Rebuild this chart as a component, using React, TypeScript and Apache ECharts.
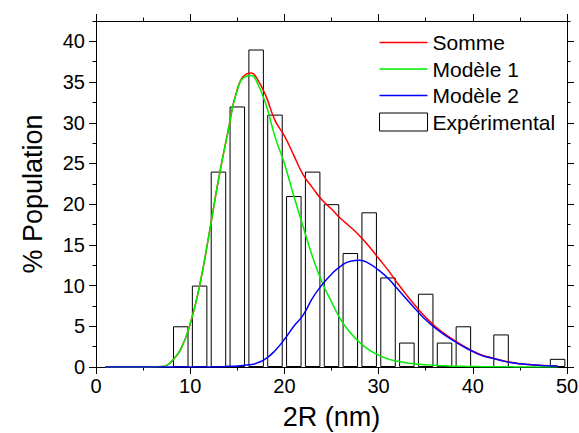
import React, { useEffect, useRef } from "react";
import * as echarts from "echarts";

// Histogram bins (bin centres, nm) and measured population (%)
const binCenters = [9, 11, 13, 15, 17, 19, 21, 23, 25, 27, 29, 31, 33, 35, 37, 39, 41, 43, 45, 47, 49];
const populations = [5, 10, 24, 32, 39, 31, 21, 24, 20, 14, 19, 11, 3, 9, 3, 5, 0, 4, 0, 0, 1];

// Fitted curves, sampled positions (nm)
const curveX = [1, 2, 3, 4, 5, 6, 7, 7.5, 8, 9, 10, 11, 12, 13, 14, 15, 16, 16.5, 17, 18, 19, 20, 21, 22, 23, 24, 25, 26, 27, 28, 29, 30, 31, 32, 33, 34, 35, 36, 37, 38, 39, 40, 41, 42, 43, 44, 45, 46, 47, 48, 49];
const somme = [0, 0, 0, 0, 0, 0, 0.05, 0.2, 0.65, 2.2, 5.3, 10.0, 16.3, 23.0, 28.9, 34.1, 36.0, 36.1, 35.6, 33.4, 30.3, 28.4, 26.0, 23.6, 22.0, 20.5, 19.4, 18.2, 17.2, 16.1, 14.8, 13.35, 11.9, 10.3, 8.8, 7.4, 6.1, 5.0, 4.1, 3.3, 2.6, 1.95, 1.45, 1.13, 0.82, 0.57, 0.41, 0.31, 0.21, 0.16, 0.11];
const modele1 = [0, 0, 0, 0, 0, 0, 0.05, 0.2, 0.65, 2.2, 5.3, 10.0, 16.3, 23.0, 28.8, 34.0, 35.75, 35.8, 35.2, 32.4, 28.3, 25.0, 21.0, 17.2, 13.5, 10.4, 8.0, 5.8, 4.2, 3.0, 2.1, 1.45, 1.0, 0.7, 0.5, 0.38, 0.28, 0.2, 0.15, 0.1, 0.08, 0.06, 0.04, 0.03, 0.02, 0.02, 0.01, 0.01, 0.01, 0.01, 0.01];
const modele2 = [0, 0, 0, 0, 0, 0, 0, 0, 0, 0, 0, 0, 0, 0, 0.08, 0.12, 0.25, 0.32, 0.45, 1.0, 2.0, 3.4, 5.0, 6.4, 8.5, 10.1, 11.4, 12.4, 13.0, 13.1, 12.7, 11.9, 10.9, 9.6, 8.3, 7.0, 5.8, 4.8, 3.95, 3.2, 2.5, 1.9, 1.4, 1.1, 0.8, 0.55, 0.4, 0.3, 0.2, 0.15, 0.1];

// Axis ticks
const xMajorTicks = [0, 10, 20, 30, 40, 50];
const xMinorTicks = [5, 15, 25, 35, 45];
const yMajorTicks = [0, 5, 10, 15, 20, 25, 30, 35, 40];
const yMinorTicks = [2.5, 7.5, 12.5, 17.5, 22.5, 27.5, 32.5, 37.5, 42.5];

const FONT = "Liberation Sans";
const X_MIN = 0, X_MAX = 50, Y_MIN = 0, Y_MAX = 42.5;
const LINE_ICON = "path://M0,0L48,0L48,1.5L0,1.5Z";

function xAx(position: string, ticks: number[], len: number, showLine: boolean, showLabel: boolean, extra: any = {}) {
  return {
    type: "value",
    position,
    min: X_MIN,
    max: X_MAX,
    splitLine: { show: false },
    axisLine: { show: showLine, onZero: false, lineStyle: { color: "#000", width: 1 } },
    axisTick: { show: true, inside: false, length: len, customValues: ticks, lineStyle: { color: "#000", width: 1 } },
    axisLabel: { show: showLabel, customValues: ticks, color: "#000", fontSize: 20, fontFamily: FONT, margin: 9 },
    ...extra,
  };
}
function yAx(position: string, ticks: number[], len: number, showLine: boolean, showLabel: boolean, extra: any = {}) {
  return {
    type: "value",
    position,
    min: Y_MIN,
    max: Y_MAX,
    splitLine: { show: false },
    axisLine: { show: showLine, onZero: false, lineStyle: { color: "#000", width: 1 } },
    axisTick: { show: true, inside: false, length: len, customValues: ticks, lineStyle: { color: "#000", width: 1 } },
    axisLabel: { show: showLabel, customValues: ticks, color: "#000", fontSize: 20, fontFamily: FONT, margin: 11 },
    ...extra,
  };
}

export default function App() {
  const ref = useRef<HTMLDivElement>(null);
  useEffect(() => {
    if (!ref.current) return;
    const chart = echarts.init(ref.current, null, { renderer: "svg" });
    const pairs = (ys: number[]) => curveX.map((x, i) => [x, ys[i]]);
    const bars = binCenters
      .map((x, i) => [x, populations[i]])
      .filter((d) => d[1] > 0);
    chart.setOption({
      animation: false,
      backgroundColor: "#fff",
      grid: { left: 96, right: 12, top: 21, bottom: 66, containLabel: false, outerBoundsMode: "none" },
      legend: {
        orient: "vertical",
        left: 374,
        top: 27,
        itemWidth: 48,
        itemHeight: 18,
        itemGap: 5.5,
        textStyle: { color: "#000", fontSize: 21, fontFamily: FONT },
        data: [
          { name: "Somme", icon: LINE_ICON, itemStyle: { color: "#ff0000", borderWidth: 0 } },
          { name: "Modèle 1", icon: LINE_ICON, itemStyle: { color: "#00ee00", borderWidth: 0 } },
          { name: "Modèle 2", icon: LINE_ICON, itemStyle: { color: "#0000ff", borderWidth: 0 } },
          { name: "Expérimental", icon: "rect", itemStyle: { color: "#fff", borderColor: "#000", borderWidth: 1 } },
        ],
      },
      xAxis: [
        xAx("bottom", xMajorTicks, 7, true, true, {
          name: "2R (nm)",
          nameLocation: "middle",
          nameGap: 36,
          nameTextStyle: { color: "#000", fontSize: 27, fontFamily: FONT },
        }),
        xAx("bottom", xMinorTicks, 3.5, false, false),
        xAx("top", xMajorTicks, 7, true, false),
        xAx("top", xMinorTicks, 3.5, false, false),
      ],
      yAxis: [
        yAx("left", yMajorTicks, 7, true, true, {
          name: "% Population",
          nameLocation: "middle",
          nameGap: 50,
          nameRotate: 90,
          nameTextStyle: { color: "#000", fontSize: 27, fontFamily: FONT },
        }),
        yAx("left", yMinorTicks, 3.5, false, false),
        yAx("right", yMajorTicks, 7, true, false),
        yAx("right", yMinorTicks, 3.5, false, false),
      ],
      series: [
        {
          name: "Expérimental",
          type: "bar",
          xAxisIndex: 0,
          yAxisIndex: 0,
          data: bars,
          barWidth: 15.5,
          itemStyle: { color: "rgba(255,255,255,0)", borderColor: "#000", borderWidth: 1 },
          z: 1,
        },
        {
          name: "Somme",
          type: "line",
          data: pairs(somme),
          smooth: true,
          symbol: "none",
          showSymbol: false,
          lineStyle: { color: "#ff0000", width: 1.5 },
          itemStyle: { color: "#ff0000" },
          z: 3,
        },
        {
          name: "Modèle 1",
          type: "line",
          data: pairs(modele1),
          smooth: true,
          symbol: "none",
          showSymbol: false,
          lineStyle: { color: "#00ee00", width: 1.5 },
          itemStyle: { color: "#00ee00" },
          z: 4,
        },
        {
          name: "Modèle 2",
          type: "line",
          data: pairs(modele2),
          smooth: true,
          symbol: "none",
          showSymbol: false,
          lineStyle: { color: "#0000ff", width: 1.5 },
          itemStyle: { color: "#0000ff" },
          z: 5,
        },
      ],
    });
    return () => chart.dispose();
  }, []);
  return <div ref={ref} style={{ width: 579, height: 433, position: "absolute", left: 0, top: 0 }} />;
}
